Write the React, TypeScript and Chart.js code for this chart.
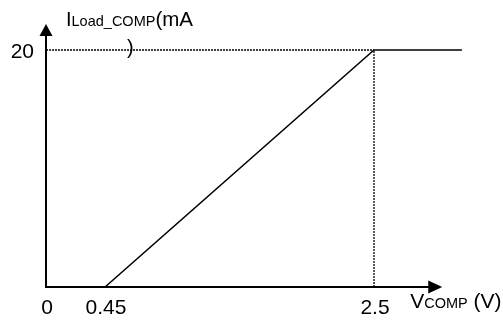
import React, { useEffect, useRef } from "react";
import { Chart, registerables } from "chart.js";

Chart.register(...registerables);

// ---- data ----
const vcompValues = [0.45, 2.5, 3.17];
const iloadValues = [0, 20, 20];
const xTickValues = [0, 0.45, 2.5];
const xTickLabels = ["0", "0.45", "2.5"];
const yTickValues = [20];
const yTickLabels = ["20"];
const hGuideX = [0, 2.5];
const hGuideY = [20, 20];
const vGuideX = [2.5, 2.5];
const vGuideY = [0, 20];
const xAxisEnd = 3.02;
const yAxisEnd = 22.2;

const FONT = '"Liberation Sans", Arial, Helvetica, sans-serif';

function zip(xs: number[], ys: number[]) {
  return xs.map((x, i) => ({ x, y: ys[i] }));
}

function drawRich(ctx: CanvasRenderingContext2D, x: number, y: number, parts: [string, number][]) {
  let cx = x;
  for (const [t, s] of parts) {
    ctx.font = `${s}px ${FONT}`;
    ctx.fillText(t, cx, y);
    cx += ctx.measureText(t).width;
  }
}

const axesPlugin = {
  id: "axesPlugin",
  afterDatasetsDraw(chart: any) {
    const ctx: CanvasRenderingContext2D = chart.ctx;
    const xs = chart.scales.x;
    const ys = chart.scales.y;
    const x0 = xs.getPixelForValue(0);
    const y0 = ys.getPixelForValue(0);
    const xEnd = xs.getPixelForValue(xAxisEnd);
    const yEnd = ys.getPixelForValue(yAxisEnd);
    ctx.save();
    ctx.strokeStyle = "#000";
    ctx.fillStyle = "#000";
    ctx.lineWidth = 2;
    ctx.setLineDash([]);
    // y axis
    ctx.beginPath();
    ctx.moveTo(x0, y0 + 1);
    ctx.lineTo(x0, yEnd + 10);
    ctx.stroke();
    ctx.beginPath();
    ctx.moveTo(x0, yEnd);
    ctx.lineTo(x0 - 6.5, yEnd + 12);
    ctx.lineTo(x0 + 6.5, yEnd + 12);
    ctx.closePath();
    ctx.fill();
    // x axis
    ctx.beginPath();
    ctx.moveTo(x0 - 1, y0);
    ctx.lineTo(xEnd - 10, y0);
    ctx.stroke();
    ctx.beginPath();
    ctx.moveTo(xEnd, y0);
    ctx.lineTo(xEnd - 14, y0 - 6.5);
    ctx.lineTo(xEnd - 14, y0 + 6.5);
    ctx.closePath();
    ctx.fill();

    // tick labels
    ctx.textBaseline = "alphabetic";
    ctx.font = `21px ${FONT}`;
    ctx.textAlign = "center";
    xTickValues.forEach((v, i) => {
      ctx.fillText(xTickLabels[i], xs.getPixelForValue(v) + 1, y0 + 27);
    });
    ctx.textAlign = "right";
    yTickValues.forEach((v, i) => {
      ctx.fillText(yTickLabels[i], x0 - 12, ys.getPixelForValue(v) + 8);
    });

    // axis titles
    ctx.textAlign = "left";
    drawRich(ctx, x0 + 20, 26, [["I", 20], ["Load_COMP", 14.5], ["(mA", 20.5]]);
    drawRich(ctx, x0 + 81, 54, [[")", 20]]);
    drawRich(ctx, xEnd - 32, y0 + 21, [["V", 21], ["COMP", 14.5], [" (V)", 21]]);
    ctx.restore();
  },
};

export default function App() {
  const ref = useRef<HTMLCanvasElement | null>(null);
  useEffect(() => {
    document.body.style.margin = "0";
    if (!ref.current) return;
    const chart = new Chart(ref.current, {
      type: "scatter",
      data: {
        datasets: [
          {
            data: zip(vcompValues, iloadValues),
            showLine: true,
            borderColor: "#000",
            borderWidth: 1.5,
            pointRadius: 0,
          },
          {
            data: zip(hGuideX, hGuideY),
            showLine: true,
            borderColor: "#000",
            borderWidth: 1.3,
            borderDash: [2, 1],
            pointRadius: 0,
          },
          {
            data: zip(vGuideX, vGuideY),
            showLine: true,
            borderColor: "#000",
            borderWidth: 1.3,
            borderDash: [2, 1],
            pointRadius: 0,
          },
        ],
      } as any,
      options: {
        animation: false,
        responsive: false,
        events: [],
        layout: {
          autoPadding: false,
          padding: { left: 46, right: 37.16, top: 26.3, bottom: 33 },
        },
        plugins: { legend: { display: false }, tooltip: { enabled: false } },
        scales: {
          x: { type: "linear", min: 0, max: 3.2, display: false },
          y: { type: "linear", min: 0, max: 22, display: false },
        },
      } as any,
      plugins: [axesPlugin],
    });
    return () => chart.destroy();
  }, []);
  return (
    <div style={{ width: 503, height: 320, background: "#fff" }}>
      <canvas ref={ref} width={503} height={320} style={{ display: "block" }} />
    </div>
  );
}
